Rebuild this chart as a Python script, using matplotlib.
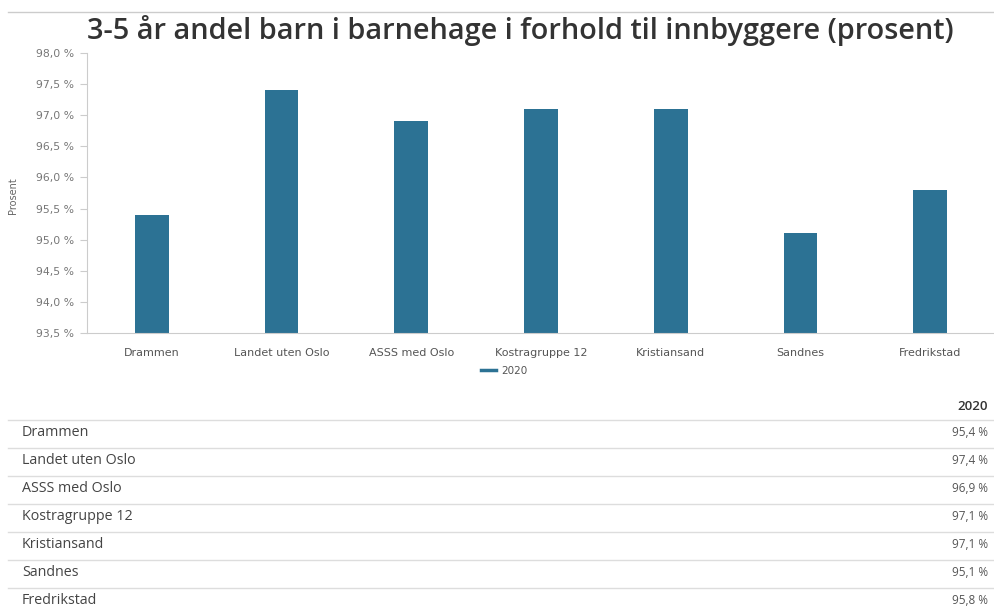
import matplotlib.pyplot as plt
from matplotlib.lines import Line2D

categories = ['Drammen', 'Landet uten Oslo', 'ASSS med Oslo', 'Kostragruppe 12',
              'Kristiansand', 'Sandnes', 'Fredrikstad']
values_2020 = [95.4, 97.4, 96.9, 97.1, 97.1, 95.1, 95.8]
y_ticks = [93.5, 94.0, 94.5, 95.0, 95.5, 96.0, 96.5, 97.0, 97.5, 98.0]
series_name = '2020'

BAR = '#2c7294'
W, H = 995, 610
AXFONT = ['DejaVu Sans']


def fmt(v):
    return f'{v:.1f} %'.replace('.', ',')


def main():
    plt.rcParams['font.family'] = ['Open Sans', 'DejaVu Sans']
    fig = plt.figure(figsize=(W / 100, H / 100), dpi=100)

    # top rule and title
    fig.add_artist(Line2D([8 / W, 1], [1 - 12 / H] * 2, color='#cccccc', lw=1))
    fig.text(520 / W, 1 - 31 / H, '3-5 år andel barn i barnehage i forhold til innbyggere (prosent)',
             ha='center', va='center', fontsize=20.8, fontweight='semibold', color='#333333')

    ax = fig.add_axes([87 / W, 1 - 333 / H, (995 - 87) / W, (333 - 53) / H])
    x = range(len(categories))
    ax.bar(x, [v - y_ticks[0] for v in values_2020], bottom=y_ticks[0], width=0.26, color=BAR)
    ax.set_xlim(-0.5, len(categories) - 0.5)
    ax.set_ylim(y_ticks[0], y_ticks[-1])
    ax.set_yticks(y_ticks)
    ax.set_yticklabels([fmt(t) for t in y_ticks], fontsize=7.8, color='#777777', family=AXFONT)
    ax.set_xticks(list(x))
    ax.set_xticklabels(categories, fontsize=8, color='#555555', family=AXFONT)
    ax.tick_params(axis='x', length=0, pad=11)
    ax.tick_params(axis='y', length=5, color='#cccccc', pad=4)
    for s in ['top', 'right']:
        ax.spines[s].set_visible(False)
    ax.spines['left'].set_color('#cccccc')
    ax.spines['bottom'].set_color('#cccccc')
    ax.set_ylabel('Prosent', fontsize=7, color='#666666', family=AXFONT)
    ax.yaxis.set_label_coords(-69 / (995 - 87), (333 - 196) / (333 - 53))

    handle = Line2D([], [], color=BAR, lw=2.5)
    fig.legend([handle], [series_name], loc='center', bbox_to_anchor=(504 / W, 1 - 371 / H),
               frameon=False, prop={'family': AXFONT, 'size': 7.5}, handlelength=1.4,
               handletextpad=0.5, labelcolor='#555555')

    # table below the chart
    fig.text(988 / W, 1 - 406 / H, series_name, ha='right', va='center', fontsize=9.5,
             fontweight='semibold', color='#333333')
    row_h = 28
    top = 420
    for i, (cat, val) in enumerate(zip(categories, values_2020)):
        y_line = top + i * row_h
        fig.add_artist(Line2D([8 / W, 1], [1 - y_line / H] * 2, color='#dddddd', lw=1))
        yc = 1 - (y_line + 13) / H
        fig.text(22 / W, yc, cat, ha='left', va='center', fontsize=10.3, color='#444444')
        fig.text(988 / W, yc, fmt(val), ha='right', va='center', fontsize=8.5, color='#555555')

    fig.savefig('out.png', dpi=100)


if __name__ == '__main__':
    main()
